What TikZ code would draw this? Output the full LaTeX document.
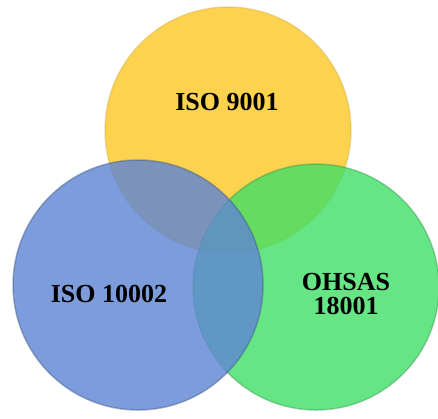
\documentclass[tikz,border=0pt]{standalone}
\usepackage{fontspec}
\setmainfont{Liberation Serif}
\usepackage{tikz}
\usetikzlibrary{positioning}
\definecolor{isoyellow}{RGB}{253,210,79}
\definecolor{isoblue}{RGB}{95,134,211}
\definecolor{isogreen}{RGB}{64,222,101}
\tikzset{
    venn/.style={circle,minimum size=246pt,inner sep=0pt,line width=1.5pt},
    vennlabel/.style={font=\fontsize{26}{26}\bfseries,align=center,text=black}
}

\begin{document}
\begin{tikzpicture}[x=1pt,y=-1pt]
    \useasboundingbox (0,0) rectangle (438,418);
    % circles
    \node[venn,fill=isoyellow,draw=isoyellow!80!black,draw opacity=0.35] (c9001) at (228,130) {};
    \node[venn,minimum size=246pt,fill=isogreen,fill opacity=0.8,draw=isogreen!60!black,draw opacity=0.35] (c18001) at (316,287) {};
    \node[venn,minimum size=250pt,fill=isoblue,fill opacity=0.82,draw=isoblue!60!black,draw opacity=0.4] (c10002) at (138,285) {};
    % labels
    \node[vennlabel] (l9001) at (227,102) {ISO 9001};
    \node[vennlabel] (l10002) at (109,294) {ISO 10002};
    \node[vennlabel] (l18001) at (346,294) {OHSAS\\[-2pt]18001};
\end{tikzpicture}
\end{document}
